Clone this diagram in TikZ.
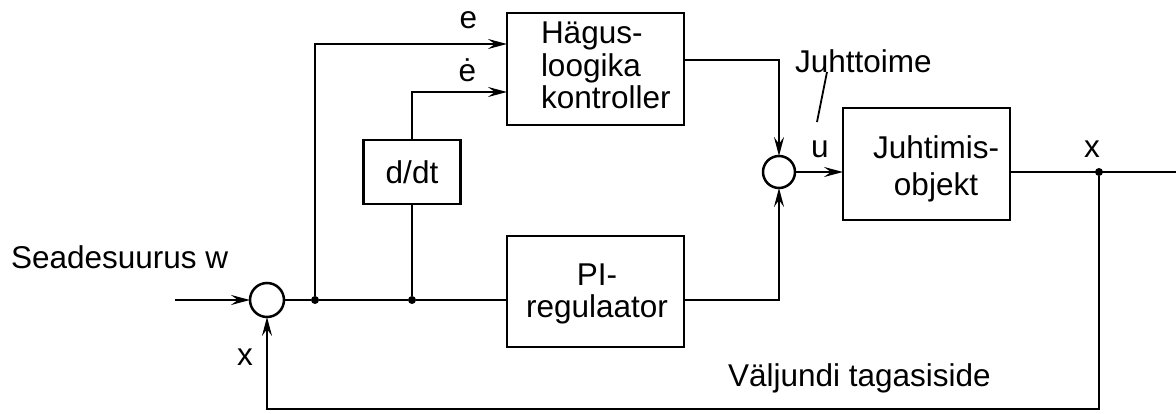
\documentclass[tikz,border=0pt]{standalone}
\usepackage{fontspec}
\setmainfont{Liberation Sans}
\usetikzlibrary{arrows.meta}
\begin{document}
\begin{tikzpicture}[x=1pt,y=-1pt,
  line width=2.5pt,
  every node/.style={inner sep=0pt,outer sep=0pt},
  txt/.style={font=\fontsize{31.5}{32.5}\selectfont},
  blk/.style={draw,rectangle},
  sumj/.style={draw,circle,minimum size=34pt},
  jdot/.style={fill,circle,minimum size=8pt},
  arr/.style={-{Stealth[length=19pt,width=10pt,inset=7pt]}}]
\useasboundingbox (0,0) rectangle (1176,414);
% blocks
\node[blk,minimum width=177pt,minimum height=112pt] (fz) at (595.5,69) {};
\node[blk,minimum width=97pt,minimum height=64pt] (dd) at (412,172) {};
\node[blk,minimum width=177pt,minimum height=111pt] (pi) at (595.5,291.5) {};
\node[blk,minimum width=167pt,minimum height=112pt] (obj) at (926.5,164) {};
% summing junctions
\node[sumj] (s1) at (267,300) {};
\node[sumj,minimum size=32pt] (s2) at (779,172) {};
% junction dots
\node[jdot] (d1) at (315,300) {};
\node[jdot] (d2) at (412,300) {};
\node[jdot] (d3) at (1099,172) {};
% free ends
\coordinate (in) at (175,300);
\coordinate (out) at (1176,172);
\coordinate (fb) at (267,409);
\coordinate (sl1) at (827,72);
\coordinate (sl2) at (817,122);
% block texts
\node[txt,align=left,anchor=north west] (fzt) at (541,22) {Hägus-\\loogika\\kontroller};
\node[txt,anchor=center] (ddt) at (412,172) {d/dt};
\node[txt,align=center,anchor=north] (pit) at (597,263.5) {PI-\\regulaator};
\node[txt,align=center,anchor=north,font=\fontsize{31.5}{36.5}\selectfont] (objt) at (936,136) {Juhtimis-\\objekt};
% labels
\node[txt,anchor=base] (le) at (468.5,29) {e};
\node[txt,anchor=base] (led) at (467.5,82) {ė};
\node[txt,anchor=base west] (lj) at (795,73) {Juhttoime};
\node[txt,anchor=base] (lu) at (820,158) {u};
\node[txt,anchor=base] (lx1) at (1092,158) {x};
\node[txt,anchor=base] (lx2) at (245,365) {x};
\node[txt,anchor=base west] (lw) at (11,269) {Seadesuurus w};
\node[txt,anchor=base west] (lv) at (728,386) {Väljundi tagasiside};
% connectors
\draw[arr] (in) -- (s1.west);
\draw (s1.east) -- (d1) -- (d2) -- (pi.west |- s1);
\draw[arr] (d1) |- ([yshift=25pt]fz.west);
\draw (d2) -- (dd.south);
\draw[arr] (dd.north) |- ([yshift=-23pt]fz.west);
\draw[arr] ([yshift=9pt]fz.east) -| (s2.north);
\draw[arr] ([yshift=-8.5pt]pi.east) -| (s2.south);
\draw[arr] (s2.east) -- ([yshift=-8pt]obj.west);
\draw ([yshift=-8pt]obj.east) -- (out);
\draw[arr] (d3) |- (fb) -- (s1.south);
\draw[line width=1.8pt] (sl1) -- (sl2);
\end{tikzpicture}
\end{document}
